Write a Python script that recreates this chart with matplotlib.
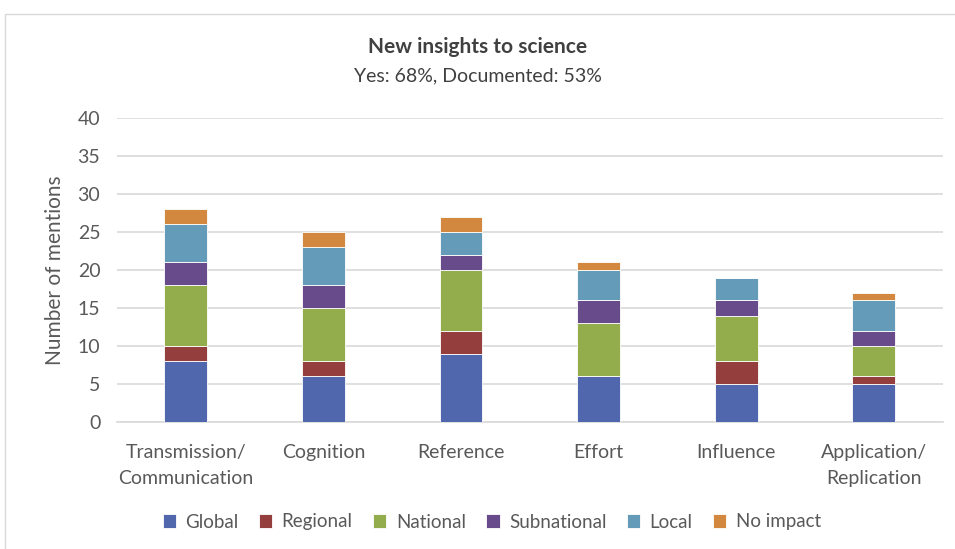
import matplotlib
matplotlib.use("Agg")
import matplotlib.pyplot as plt
from matplotlib.patches import Rectangle
import numpy as np

categories = ["Transmission/\nCommunication", "Cognition", "Reference", "Effort", "Influence", "Application/\nReplication"]
series_names = ["Global", "Regional", "National", "Subnational", "Local", "No impact"]
global_vals = [8, 6, 9, 6, 5, 5]
regional_vals = [2, 2, 3, 0, 3, 1]
national_vals = [8, 7, 8, 7, 6, 4]
subnational_vals = [3, 3, 2, 3, 2, 2]
local_vals = [5, 5, 3, 4, 3, 4]
no_impact_vals = [2, 2, 2, 1, 0, 1]
colors = ["#5167ad", "#943f3e", "#93ac4c", "#674b8b", "#639bb8", "#d3883f"]

plt.rcParams['font.family'] = ['Lato', 'DejaVu Sans']

fig = plt.figure(figsize=(9.55, 5.49), dpi=100)
ax = fig.add_axes([0.1225, 0.2313, 0.8645, 0.5537])

# chart frame
fig.patches.append(Rectangle((5/955, -0.1), 1.1, 1 - 14/549 + 0.1, transform=fig.transFigure,
                             fill=False, edgecolor="#d9d9d9", linewidth=1))

x = np.arange(len(categories))
bottom = np.zeros(len(categories))
for name, vals, c in zip(series_names,
                         [global_vals, regional_vals, national_vals, subnational_vals, local_vals, no_impact_vals],
                         colors):
    ax.bar(x, vals, 0.31, bottom=bottom, color=c, edgecolor="white", linewidth=0.6, label=name, zorder=3)
    bottom += np.array(vals)

ax.set_xlim(-0.5, len(categories) - 0.5)
ax.set_ylim(0, 40)
ax.set_yticks(range(0, 41, 5))
ax.grid(axis="y", color="#d9d9d9", linewidth=1.2, zorder=0)
for s in ["top", "right", "left"]:
    ax.spines[s].set_visible(False)
ax.spines["bottom"].set_color("#d9d9d9")
ax.spines["bottom"].set_linewidth(1.2)
ax.tick_params(length=0, labelsize=14, labelcolor="#595959")
ax.tick_params(axis="x", pad=16)
ax.tick_params(axis="y", pad=12)
ax.set_xticks(x)
ax.set_xticklabels(categories, linespacing=1.6)
ax.set_ylabel("Number of mentions", fontsize=15, color="#595959", labelpad=9)

fig.text(0.5, 1 - 47/549, "New insights to science", ha="center", va="center",
         fontsize=15, fontweight="bold", color="#404040")
fig.text(0.5, 1 - 76/549, "Yes: 68%, Documented: 53%", ha="center", va="center",
         fontsize=14, color="#404040")

fig.legend(loc="center", bbox_to_anchor=(0.515, 1 - 522/549), ncol=6, frameon=False,
           fontsize=13.5, labelcolor="#595959", handlelength=0.7, handleheight=0.7,
           handletextpad=0.5, columnspacing=1.1)

fig.savefig("out.png", dpi=100)
